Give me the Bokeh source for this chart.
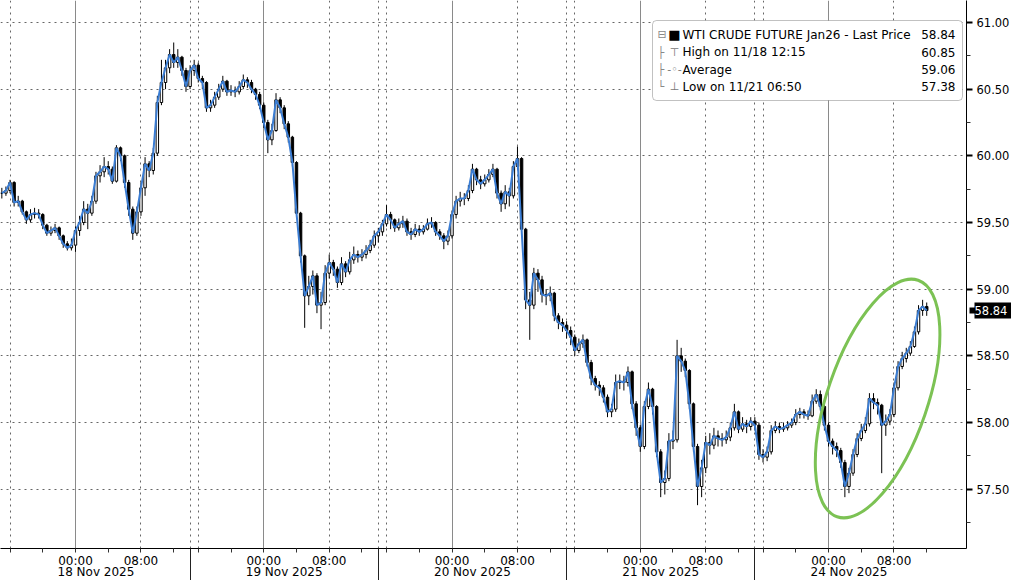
from bokeh.plotting import figure
from bokeh.models import (ColumnDataSource, FixedTicker, LinearAxis, Range1d, Grid,
                          Label, BoxAnnotation, NumeralTickFormatter)
from bokeh.embed import file_html
from bokeh.resources import INLINE

# ---------------- data (30-minute bars, one list per trading session) ----------------
day_labels = ["18 Nov 2025", "19 Nov 2025", "20 Nov 2025", "21 Nov 2025", "24 Nov 2025"]

close_18 = [59.72, 59.74, 59.80, 59.65, 59.66, 59.58, 59.52, 59.56, 59.57, 59.56,
            59.48, 59.42, 59.44, 59.46, 59.40, 59.34, 59.31, 59.33, 59.44, 59.50,
            59.60, 59.57, 59.66, 59.85, 59.88, 59.92, 59.90, 59.81, 60.06, 60.00,
            59.80, 59.60, 59.42, 59.58, 59.76, 59.94, 59.89, 60.02, 60.40, 60.55,
            60.66, 60.76, 60.70, 60.74, 60.64, 60.52]
high_18 = [59.76, 59.77, 59.82, 59.81, 59.70, 59.67, 59.59, 59.60, 59.61, 59.60,
           59.57, 59.49, 59.47, 59.49, 59.47, 59.41, 59.36, 59.38, 59.47, 59.55,
           59.66, 59.64, 59.70, 59.88, 59.93, 59.99, 59.96, 59.92, 60.08, 60.07,
           60.01, 59.82, 59.62, 59.62, 59.80, 59.99, 59.96, 60.06, 60.45, 60.72,
           60.72, 60.80, 60.85, 60.80, 60.75, 60.66]
low_18 = [59.68, 59.70, 59.72, 59.62, 59.62, 59.56, 59.49, 59.50, 59.53, 59.53,
          59.45, 59.40, 59.40, 59.42, 59.37, 59.31, 59.29, 59.29, 59.28, 59.40,
          59.48, 59.45, 59.55, 59.64, 59.80, 59.84, 59.86, 59.79, 59.80, 59.96,
          59.76, 59.55, 59.37, 59.40, 59.55, 59.70, 59.84, 59.86, 60.00, 60.38,
          60.50, 60.62, 60.66, 60.66, 60.60, 60.48]

close_19 = [60.64, 60.68, 60.58, 60.55, 60.36, 60.38, 60.44, 60.50, 60.56, 60.48,
            60.49, 60.48, 60.52, 60.57, 60.55, 60.50, 60.46, 60.38, 60.25, 60.12,
            60.19, 60.42, 60.36, 60.24, 60.14, 59.95, 59.57, 59.25, 58.95, 59.02,
            59.10, 58.88, 58.90, 59.12, 59.20, 59.15, 59.05, 59.19, 59.13, 59.22,
            59.26, 59.24, 59.26, 59.29, 59.33, 59.40]
high_19 = [60.68, 60.72, 60.70, 60.60, 60.56, 60.42, 60.48, 60.54, 60.60, 60.57,
           60.53, 60.52, 60.56, 60.61, 60.59, 60.57, 60.51, 60.48, 60.40, 60.27,
           60.24, 60.47, 60.44, 60.38, 60.26, 60.15, 59.96, 59.58, 59.26, 59.10,
           59.14, 59.12, 58.98, 59.18, 59.26, 59.22, 59.17, 59.24, 59.21, 59.28,
           59.32, 59.29, 59.30, 59.33, 59.37, 59.44]
low_19 = [60.50, 60.60, 60.55, 60.50, 60.33, 60.33, 60.36, 60.42, 60.48, 60.45,
          60.45, 60.44, 60.46, 60.50, 60.51, 60.47, 60.42, 60.35, 60.21, 60.02,
          60.08, 60.18, 60.32, 60.20, 60.10, 59.92, 59.54, 59.20, 58.71, 58.88,
          58.96, 58.82, 58.70, 58.88, 59.08, 59.10, 59.01, 59.03, 59.09, 59.11,
          59.19, 59.20, 59.21, 59.23, 59.27, 59.31]

close_20 = [59.43, 59.49, 59.56, 59.52, 59.46, 59.49, 59.51, 59.43, 59.41, 59.45,
            59.43, 59.45, 59.49, 59.50, 59.43, 59.40, 59.36, 59.40, 59.56, 59.66,
            59.68, 59.68, 59.74, 59.90, 59.82, 59.79, 59.82, 59.86, 59.90, 59.72,
            59.64, 59.73, 59.70, 59.92, 59.98, 59.45, 58.92, 58.88, 59.12, 59.07,
            58.96, 58.95, 58.97, 58.80, 58.75, 58.73]
high_20 = [59.46, 59.52, 59.63, 59.58, 59.53, 59.53, 59.55, 59.53, 59.46, 59.49,
           59.48, 59.48, 59.53, 59.54, 59.51, 59.45, 59.42, 59.44, 59.59, 59.70,
           59.73, 59.72, 59.78, 59.94, 59.91, 59.85, 59.86, 59.90, 59.94, 59.91,
           59.74, 59.78, 59.76, 59.96, 60.07, 59.99, 59.46, 58.98, 59.16, 59.15,
           59.10, 59.00, 59.02, 58.98, 58.82, 58.78]
low_20 = [59.35, 59.40, 59.47, 59.45, 59.43, 59.44, 59.46, 59.40, 59.37, 59.39,
          59.40, 59.41, 59.44, 59.46, 59.40, 59.37, 59.30, 59.33, 59.38, 59.53,
          59.62, 59.63, 59.66, 59.72, 59.78, 59.75, 59.77, 59.80, 59.84, 59.68,
          59.58, 59.60, 59.62, 59.68, 59.90, 59.40, 58.85, 58.62, 58.85, 58.98,
          58.90, 58.88, 58.91, 58.76, 58.70, 58.68]

close_21 = [58.69, 58.64, 58.54, 58.59, 58.62, 58.45, 58.33, 58.28, 58.26, 58.19,
            58.08, 58.10, 58.30, 58.31, 58.30, 58.38, 58.14, 57.96, 57.82, 58.12,
            58.25, 58.12, 57.78, 57.55, 57.58, 57.86, 57.87, 58.50, 58.46, 58.39,
            58.14, 57.82, 57.52, 57.66, 57.85, 57.83, 57.90, 57.88, 57.87, 57.89,
            57.96, 58.08, 57.95, 57.99, 57.97, 58.01]
high_21 = [58.76, 58.72, 58.66, 58.63, 58.66, 58.63, 58.47, 58.35, 58.31, 58.28,
           58.21, 58.14, 58.36, 58.36, 58.35, 58.42, 58.39, 58.16, 57.98, 58.16,
           58.30, 58.26, 58.13, 57.80, 57.64, 57.92, 57.94, 58.62, 58.56, 58.48,
           58.40, 58.15, 57.84, 57.72, 57.90, 57.92, 57.96, 57.94, 57.92, 57.94,
           58.00, 58.14, 58.09, 58.04, 58.02, 58.04]
low_21 = [58.63, 58.58, 58.50, 58.52, 58.56, 58.42, 58.28, 58.24, 58.20, 58.15,
          58.04, 58.04, 58.08, 58.25, 58.24, 58.27, 58.10, 57.90, 57.78, 57.80,
          58.10, 58.06, 57.74, 57.44, 57.46, 57.56, 57.80, 57.85, 58.38, 58.34,
          58.10, 57.78, 57.38, 57.44, 57.62, 57.76, 57.80, 57.82, 57.82, 57.84,
          57.86, 57.94, 57.92, 57.93, 57.92, 57.94]

close_24 = [57.98, 57.76, 57.74, 57.78, 57.94, 57.97, 57.95, 57.96, 57.98, 58.00,
            58.06, 58.08, 58.06, 58.05, 58.16, 58.21, 58.12, 57.98, 57.86, 57.82,
            57.79, 57.70, 57.52, 57.62, 57.76, 57.88, 57.94, 57.99, 58.18, 58.15,
            58.13, 57.98, 58.01, 58.06, 58.26, 58.42, 58.48, 58.52, 58.57, 58.68,
            58.84, 58.87, 58.84]
high_24 = [58.04, 58.00, 57.80, 57.82, 57.98, 58.01, 58.00, 58.00, 58.01, 58.03,
           58.10, 58.11, 58.10, 58.09, 58.21, 58.25, 58.24, 58.14, 58.00, 57.88,
           57.85, 57.81, 57.72, 57.66, 57.80, 57.92, 57.99, 58.04, 58.22, 58.22,
           58.18, 58.14, 58.06, 58.10, 58.30, 58.46, 58.53, 58.56, 58.61, 58.72,
           58.88, 58.92, 58.90]
low_24 = [57.94, 57.72, 57.70, 57.71, 57.76, 57.92, 57.92, 57.93, 57.94, 57.96,
          57.98, 58.03, 58.03, 58.02, 58.04, 58.14, 58.09, 57.94, 57.82, 57.76,
          57.74, 57.66, 57.44, 57.47, 57.60, 57.74, 57.86, 57.92, 57.97, 58.10,
          58.06, 57.62, 57.90, 57.98, 58.04, 58.24, 58.40, 58.45, 58.50, 58.56,
          58.66, 58.80, 58.80]

y_ticks = [57.5, 58.0, 58.5, 59.0, 59.5, 60.0, 60.5, 61.0]
y_minor = [57.25, 57.75, 58.25, 58.75, 59.25, 59.75, 60.25, 60.75]

legend_texts = ["WTI CRUDE FUTURE Jan26 - Last Price", "High on 11/18 12:15",
                "Average", "Low on 11/21 06:50"]
legend_values = ["58.84", "60.85", "59.06", "57.38"]

# ---------------- session time axis ----------------
SESSION_HOURS = 23      # trading hours per session (1h break skipped)
SESSION_START = 15      # session opens at 15:00 of previous calendar day
BAR_HOURS = 0.5

closes = [close_18, close_19, close_20, close_21, close_24]
highs = [high_18, high_19, high_20, high_21, high_24]
lows = [low_18, low_19, low_20, low_21, low_24]


def pos(session, hour):
    return session * SESSION_HOURS + (hour - SESSION_START) % 24


t, c, h, l = [], [], [], []
for k in range(len(closes)):
    for j in range(len(closes[k])):
        t.append(k * SESSION_HOURS + j * BAR_HOURS)
        c.append(closes[k][j])
        h.append(highs[k][j])
        l.append(lows[k][j])
o = [c[0]] + c[:-1]
top = [max(a, b) for a, b in zip(o, c)]
bot = [min(a, b) for a, b in zip(o, c)]
fill = ["white" if b >= a else "black" for a, b in zip(o, c)]
src = ColumnDataSource(dict(t=t, c=c, h=h, l=l, top=top, bot=bot, fill=fill))

n_sess = len(closes)
tick_pos, tick_lab = [], {}
for k in range(n_sess):
    for hr in [16, 20, 0, 4, 8, 12]:
        x = pos(k, hr)
        tick_pos.append(x)
        tick_lab[x] = f"{hr:02d}:00" if hr in (0, 8) else ""
boundaries = [k * SESSION_HOURS for k in range(1, n_sess)]
dotted_pos = boundaries + [pos(k, 16) for k in range(n_sess)] + [pos(k, 8) for k in range(n_sess)]
midnight_pos = [pos(k, 0) for k in range(n_sess)]
centers = [k * SESSION_HOURS + SESSION_HOURS / 2 for k in range(n_sess)]

# ---------------- figure ----------------
FRAME_W, FRAME_H = 966, 548
Y0, Y1 = 57.055, 61.165
p = figure(frame_width=FRAME_W, frame_height=FRAME_H, output_backend="svg",
           toolbar_location=None,
           x_range=Range1d(-0.163, 117.86), y_range=Range1d(Y0, Y1),
           y_axis_location="right", min_border_left=0, min_border_right=0,
           min_border_top=0, min_border_bottom=0,
           background_fill_color="white", border_fill_color="white",
           outline_line_color=None)

# y axis
ya = p.yaxis[0]
ya.ticker = FixedTicker(ticks=y_ticks, minor_ticks=y_minor)
ya.formatter = NumeralTickFormatter(format="0.00")
ya.axis_line_color = "black"
ya.axis_label_standoff = 0
ya.major_tick_out = 6
ya.major_tick_in = 0
ya.major_tick_line_width = 2
ya.major_tick_line_color = "black"
ya.minor_tick_out = 4
ya.minor_tick_in = 0
ya.minor_tick_line_color = "#333333"
ya.major_label_standoff = 4
ya.major_label_text_font = "DejaVu Sans"
ya.major_label_text_font_size = "11.5px"
ya.major_label_text_color = "black"

p.ygrid.grid_line_color = "#666666"
p.ygrid.grid_line_dash = "2 4"
p.xgrid.grid_line_color = None

# last price marker: a second right axis whose single tick draws the black tag
last = c[-1]
ym = LinearAxis(ticker=FixedTicker(ticks=[last], minor_ticks=[last]),
                formatter=NumeralTickFormatter(format="0.00"),
                axis_line_color=None, axis_label_standoff=0,
                major_tick_in=38, major_tick_out=0, major_tick_line_color="black",
                major_tick_line_width=16,
                minor_tick_in=43, minor_tick_out=0, minor_tick_line_color="black",
                minor_tick_line_width=6,
                major_label_standoff=-38, major_label_text_color="white",
                major_label_text_font="DejaVu Sans", major_label_text_font_size="11.5px")
p.add_layout(ym, "right")

# x axis (times)
xa = p.xaxis[0]
xa.ticker = FixedTicker(ticks=tick_pos, minor_ticks=boundaries)
xa.major_label_overrides = tick_lab
xa.axis_line_color = "black"
xa.axis_label_standoff = 0
xa.major_tick_out = 4
xa.major_tick_in = 0
xa.major_tick_line_color = "#333333"
xa.minor_tick_out = 32
xa.minor_tick_in = 0
xa.minor_tick_line_color = "#222222"
xa.major_label_standoff = -27
xa.major_label_text_font = "DejaVu Sans"
xa.major_label_text_font_size = "12px"
xa.major_label_text_color = "black"

# x axis (dates)
xd = LinearAxis(ticker=FixedTicker(ticks=centers, minor_ticks=[]),
                major_label_overrides={cx: d for cx, d in zip(centers, day_labels)},
                axis_line_color=None, major_tick_line_color=None,
                minor_tick_line_color=None, major_tick_out=0, major_tick_in=0,
                minor_tick_out=0, minor_tick_in=0,
                major_label_standoff=-6, axis_label_standoff=0,
                major_label_text_font="DejaVu Sans", major_label_text_font_size="12px",
                major_label_text_color="black")
p.add_layout(xd, "below")

# vertical grids
p.add_layout(Grid(dimension=0, ticker=FixedTicker(ticks=dotted_pos),
                  grid_line_color="#666666", grid_line_dash="2 4", grid_line_width=1))
p.add_layout(Grid(dimension=0, ticker=FixedTicker(ticks=midnight_pos),
                  grid_line_color="#8a8a8a", grid_line_width=1))

# candles
p.segment(x0="t", y0="l", x1="t", y1="h", source=src, line_color="black", line_width=1)
p.vbar(x="t", width=0.3, top="top", bottom="bot", source=src,
       fill_color="fill", line_color="black", line_width=1)
p.line(x="t", y="c", source=src, line_color="#3b7dd3", line_width=2)

# highlight ellipse around the 24 Nov rally (centre derived from the data)
hl = [i for i, x in enumerate(t) if x >= pos(n_sess - 1, 0)]
cx = (t[hl[0]] + t[hl[-1]]) / 2
cy = (min(l[i] for i in hl) + max(h[i] for i in hl)) / 2
p.ellipse(x=[cx], y=[cy], width=100, height=250, width_units="screen",
          height_units="screen", angle=-0.33, fill_color=None,
          line_color="#7cc254", line_width=3)

# legend box
p.add_layout(BoxAnnotation(left=652, right=962, top=FRAME_H - 20, bottom=FRAME_H - 100,
                           left_units="screen", right_units="screen",
                           top_units="screen", bottom_units="screen",
                           fill_color="white", fill_alpha=1.0, line_color="#333333",
                           line_width=1, border_radius=4))
row_y = [34, 51.5, 69, 86]
tree = ["⊟", "├", "├", "└"]
icons = ["■", "⊤", "-◦-", "⊥"]
icon_col = ["black", "#777777", "#777777", "#777777"]
for i in range(4):
    ys = FRAME_H - row_y[i]
    p.add_layout(Label(x=657, y=ys, x_units="screen", y_units="screen", text=tree[i],
                       text_font="DejaVu Sans", text_font_size="11px", text_color="#888888",
                       text_baseline="middle"))
    p.add_layout(Label(x=674, y=ys, x_units="screen", y_units="screen",
                       text=icons[i], text_font="DejaVu Sans",
                       text_font_size="13px" if i == 0 else "11px",
                       text_color=icon_col[i], text_align="center",
                       text_baseline="middle"))
    p.add_layout(Label(x=682, y=ys, x_units="screen", y_units="screen", text=legend_texts[i],
                       text_font="DejaVu Sans", text_font_size="12px", text_color="black",
                       text_baseline="middle"))
    p.add_layout(Label(x=955, y=ys, x_units="screen", y_units="screen", text=legend_values[i],
                       text_font="DejaVu Sans", text_font_size="12px", text_color="black",
                       text_align="right", text_baseline="middle"))

open("out.html", "w").write(file_html(p, INLINE))
